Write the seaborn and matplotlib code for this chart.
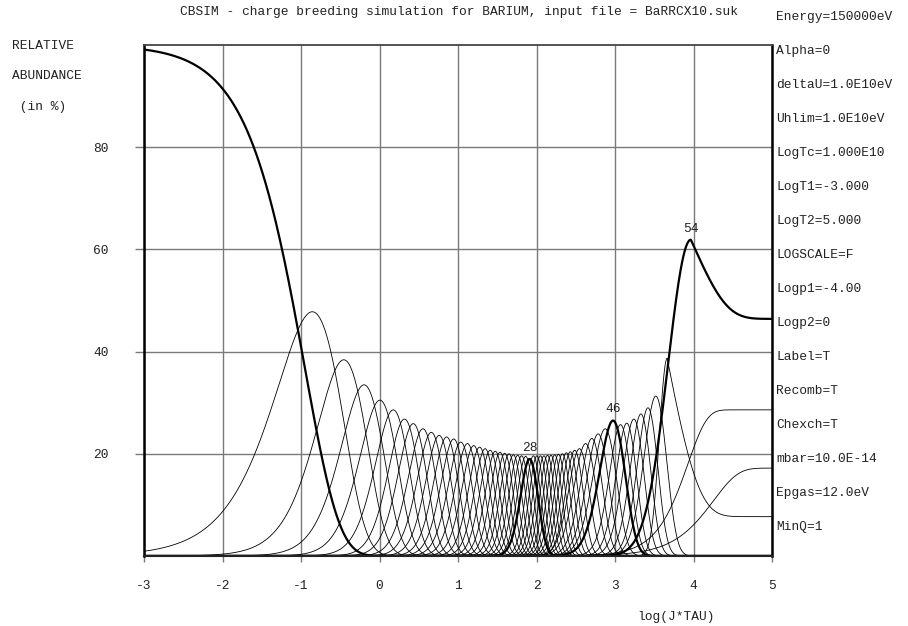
import numpy as np
import pandas as pd
import seaborn as sns
import matplotlib.pyplot as plt

# values (x = log(J*TAU), y = relative abundance in %)
q1_start = 100.0
q1_efold_logt = -0.95

bell_charges = list(range(2, 53))
bell_peak_logt = [-0.856, -0.455, -0.197, 0.005, 0.175, 0.318, 0.43, 0.553, 0.66, 0.76,
                  0.855, 0.945, 1.035, 1.12, 1.2, 1.275, 1.345, 1.41, 1.475, 1.535,
                  1.595, 1.65, 1.705, 1.76, 1.81, 1.862, 1.912, 1.96, 2.005, 2.05,
                  2.095, 2.14, 2.185, 2.232, 2.28, 2.33, 2.38, 2.43, 2.487, 2.546,
                  2.625, 2.705, 2.785, 2.875, 2.975, 3.07, 3.15, 3.24, 3.33, 3.42, 3.52]
bell_peak_pct = [47.8, 38.4, 33.5, 30.5, 28.6, 26.8, 25.9, 24.9, 24.2, 23.6,
                 23.3, 22.9, 22.3, 22.0, 21.6, 21.3, 21.0, 20.7, 20.5, 20.3,
                 20.1, 20.0, 19.8, 19.7, 19.6, 19.5, 19.0, 19.6, 19.6, 19.6,
                 19.6, 19.7, 19.7, 19.8, 19.9, 20.0, 20.2, 20.4, 20.7, 21.0,
                 22.0, 23.0, 23.9, 24.9, 26.5, 25.7, 26.0, 26.8, 27.8, 29.0, 31.3]
bell_shape = [1.0, 1.8, 2.5, 3.2, 4.0, 5.0, 5.6, 6.0, 6.5, 7.0,
              7.5, 7.8, 8.0, 8.5, 9.2, 10.2, 11.2, 12.0, 12.8, 13.6,
              14.5, 15.3, 15.8, 16.5, 17.2, 17.5, 15.0, 20.0, 21.0, 21.0,
              21.0, 21.0, 21.0, 20.5, 20.0, 19.0, 18.0, 17.0, 15.0, 11.0,
              9.5, 9.8, 9.4, 8.1, 7.0, 10.0, 11.0, 10.5, 11.0, 11.0, 9.0]

# Li-like and He-like: peak, then relax to an equilibrium level
end_charges = [53, 54]
end_peak_logt = [3.665, 3.966]
end_peak_pct = [38.7, 61.9]
end_left_width = [0.10, 0.29]
end_level = [7.7, 46.4]
end_relax = [1.1, 0.95]

# H-like and bare: rise to a plateau
rise_charges = [55, 56]
rise_level = [28.6, 17.2]
rise_mid_logt = [3.93, 4.257]
rise_steep = [1.8, 1.4]

thick_charges = [1, 28, 46, 54]
labelled = [28, 46, 54]

param_lines = ["Energy=150000eV", "Alpha=0", "deltaU=1.0E10eV", "Uhlim=1.0E10eV",
               "LogTc=1.000E10", "LogT1=-3.000", "LogT2=5.000", "LOGSCALE=F",
               "Logp1=-4.00", "Logp2=0", "Label=T", "Recomb=T", "Chexch=T",
               "mbar=10.0E-14", "Epgas=12.0eV", "MinQ=1"]

title = "CBSIM - charge breeding simulation for BARIUM, input file = BaRRCX10.suk"

# build curves
logt = np.linspace(-3, 5, 1601)
frames = []
peaks = {}

frames.append(pd.DataFrame({"logt": logt, "abund": q1_start * np.exp(-10 ** (logt - q1_efold_logt)), "q": 1}))

for q, x0, a0, k in zip(bell_charges, bell_peak_logt, bell_peak_pct, bell_shape):
    s = 10 ** (logt - x0)
    y = a0 * np.exp(k * (np.log(s) + 1 - s))
    frames.append(pd.DataFrame({"logt": logt, "abund": y, "q": q}))
    peaks[q] = (x0, a0)

for q, x0, a0, w, lev, c in zip(end_charges, end_peak_logt, end_peak_pct, end_left_width, end_level, end_relax):
    s = 10 ** (logt - x0)
    left = a0 * np.exp(-(logt - x0) ** 2 / (2 * w ** 2))
    right = lev + (a0 - lev) * np.exp(-c * (s - 1))
    y = np.where(logt < x0, left, right)
    frames.append(pd.DataFrame({"logt": logt, "abund": y, "q": q}))
    peaks[q] = (x0, a0)

for q, lev, xm, b in zip(rise_charges, rise_level, rise_mid_logt, rise_steep):
    y = lev * (1 - np.exp(-10 ** (b * (logt - xm))))
    frames.append(pd.DataFrame({"logt": logt, "abund": y, "q": q}))

df = pd.concat(frames, ignore_index=True)
df["thick"] = df["q"].isin(thick_charges)

sns.set_theme(style="white")
plt.rcParams["font.family"] = ["Liberation Mono", "DejaVu Sans Mono"]
plt.rcParams["axes.unicode_minus"] = False

W, H = 908, 626
fig = plt.figure(figsize=(W / 100, H / 100), dpi=100)
ax = fig.add_axes([144 / W, 1 - 556 / H, (772 - 144) / W, (556 - 45) / H])

grid_col = "#7a7a7a"
ax.set_axisbelow(True)
ax.grid(True, color=grid_col, lw=1.0)

sns.lineplot(data=df[~df["thick"]], x="logt", y="abund", units="q", estimator=None,
             color="black", lw=0.6, ax=ax, legend=False)
sns.lineplot(data=df[df["thick"]], x="logt", y="abund", units="q", estimator=None,
             color="black", lw=1.6, ax=ax, legend=False)

for q in labelled:
    px, py = peaks[q]
    ax.text(px, py + 1.0, str(q), ha="center", va="bottom", fontsize=9.3, color="#222222")

ax.set_xlim(-3, 5)
ax.set_ylim(0, 100)
ax.set_xticks(range(-3, 6))
ax.set_xticklabels([str(v) for v in range(-3, 6)])
ax.set_yticks([20, 40, 60, 80])
ax.set_yticklabels(["20", "40", "60", "80"])
ax.set_xlabel("")
ax.set_ylabel("")
ax.tick_params(axis="x", length=4.3, width=1, color=grid_col, pad=13, labelsize=9.3, labelcolor="#222222")
ax.tick_params(axis="y", length=6.5, width=1, color=grid_col, pad=19, labelsize=9.3, labelcolor="#222222")
ax.tick_params(bottom=True, left=True)

for side in ["left", "right"]:
    ax.spines[side].set_linewidth(1.8)
    ax.spines[side].set_color("black")
ax.spines["bottom"].set_linewidth(1.5)
ax.spines["bottom"].set_color("#222222")
ax.spines["top"].set_linewidth(1.3)
ax.spines["top"].set_color("#444444")

txt = dict(fontsize=9.3, color="#222222", va="center")
fig.text(459 / W, 1 - 12 / H, title, ha="center", **txt)
fig.text(12 / W, 1 - 46 / H, "RELATIVE", ha="left", **txt)
fig.text(12 / W, 1 - 76 / H, "ABUNDANCE", ha="left", **txt)
fig.text(12 / W, 1 - 107 / H, " (in %)", ha="left", **txt)
for i, line in enumerate(param_lines):
    fig.text(776 / W, 1 - (17 + i * 34.0) / H, line, ha="left", **txt)
fig.text(676 / W, 1 - 617 / H, "log(J*TAU)", ha="center", **txt)

fig.savefig("out.png", dpi=100)
